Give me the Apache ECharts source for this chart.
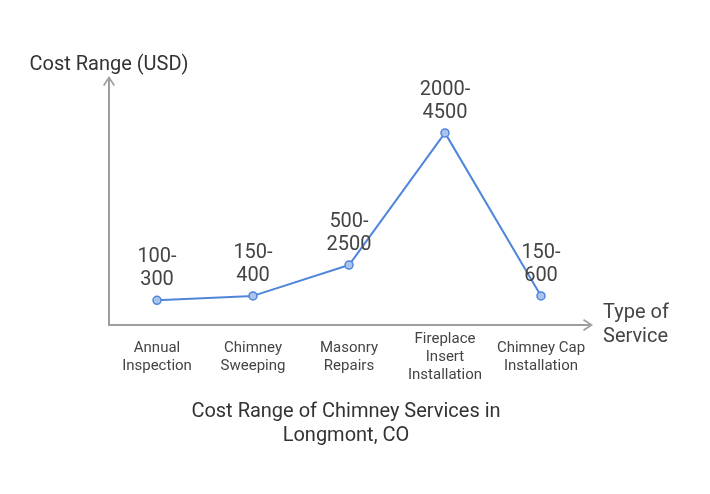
<!DOCTYPE html>
<html>
<head>
<meta charset="utf-8">
<script src="https://cdn.jsdelivr.net/npm/echarts@6/dist/echarts.min.js"></script>
<style>
  html, body { margin: 0; padding: 0; background: #fff; }
  #chart { width: 710px; height: 494px; }
</style>
</head>
<body>
<div id="chart"></div>
<script>
// services and their cost ranges (USD)
const categories = ['Annual\nInspection', 'Chimney\nSweeping', 'Masonry\nRepairs', 'Fireplace\nInsert\nInstallation', 'Chimney Cap\nInstallation']
const costLow = [100, 150, 500, 2000, 150]
const costHigh = [300, 400, 2500, 4500, 600]

const axisColor = '#9e9e9e'
const textColor = '#444'
// open chevron for the axis ends
const chevron = 'path://M0,9 L6,0 L12,9 L10.6,10 L6,3 L1.4,10 Z'

const chart = echarts.init(document.getElementById('chart'), null, { renderer: 'canvas' })
chart.setOption({
  backgroundColor: '#fff',
  textStyle: { fontFamily: 'Roboto' },
  title: {
    text: 'Cost Range of Chimney Services in\nLongmont, CO',
    left: 341,
    textAlign: 'center',
    top: 395,
    textStyle: { fontFamily: 'Roboto', fontSize: 20, fontWeight: 'normal', color: '#333', lineHeight: 24 }
  },
  grid: { left: 109, right: 121, top: 80, bottom: 169 },
  xAxis: {
    type: 'category',
    data: categories,
    boundaryGap: true,
    name: 'Type of\nService',
    nameLocation: 'end',
    nameGap: 14,
    nameTextStyle: { fontSize: 20, color: textColor, lineHeight: 24, align: 'left', verticalAlign: 'middle', padding: [6, 0, 0, 0] },
    axisLine: { onZero: false, lineStyle: { color: axisColor, width: 2 }, symbol: ['none', chevron], symbolSize: [12, 10], symbolOffset: [0, -1] },
    axisTick: { show: false },
    axisLabel: { fontSize: 15, color: textColor, lineHeight: 18, margin: 32, verticalAlign: 'middle', interval: 0 },
    splitLine: { show: false }
  },
  yAxis: {
    type: 'value',
    min: -180,
    max: 2600,
    name: 'Cost Range (USD)',
    nameLocation: 'end',
    nameGap: 5,
    nameTextStyle: { fontSize: 20, color: '#333' },
    axisLine: { show: true, lineStyle: { color: axisColor, width: 2 }, symbol: ['none', chevron], symbolSize: [12, 10], symbolOffset: [0, -1] },
    axisTick: { show: false },
    axisLabel: { show: false },
    splitLine: { show: false }
  },
  series: [{
    type: 'line',
    data: costLow,
    symbol: 'circle',
    symbolSize: 8,
    lineStyle: { color: '#4f86d9', width: 2 },
    itemStyle: { color: '#a9c4ef', borderColor: '#4f86d9', borderWidth: 1.5 },
    label: {
      show: true,
      position: 'top',
      distance: 4,
      fontSize: 20,
      lineHeight: 23,
      color: textColor,
      formatter: p => costLow[p.dataIndex] + '-\n' + costHigh[p.dataIndex]
    },
    animation: false
  }]
})
</script>
</body>
</html>
